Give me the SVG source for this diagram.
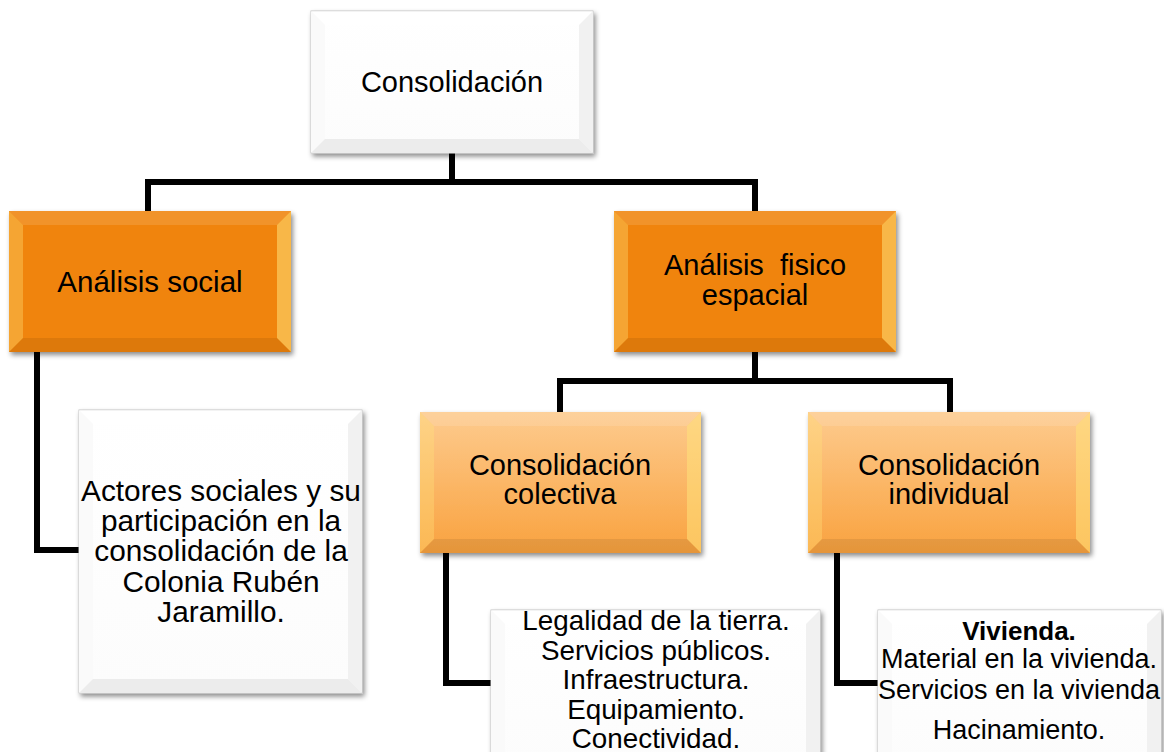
<svg xmlns="http://www.w3.org/2000/svg" width="1164" height="752" viewBox="0 0 1164 752">
<defs>
<filter id="sh" x="-10%" y="-10%" width="125%" height="125%">
<feDropShadow dx="2" dy="3" stdDeviation="2.5" flood-color="#000" flood-opacity="0.45"/>
</filter>
<linearGradient id="lo" x1="0" y1="0" x2="0" y2="1">
<stop offset="0" stop-color="#FDCB8E"/>
<stop offset="1" stop-color="#F9A23F"/>
</linearGradient>
<linearGradient id="wh" x1="0" y1="0" x2="0" y2="1">
<stop offset="0" stop-color="#FFFFFF"/>
<stop offset="1" stop-color="#FCFCFC"/>
</linearGradient>
</defs>
<style>
.t{font-family:"Liberation Sans",Arial,sans-serif;fill:#000;text-anchor:middle}
.orange{fill:#F0840C}
.lorange{fill:url(#lo)}
.white{fill:url(#wh);stroke:#C4C4C4;stroke-width:1}
.bt{fill:#FFFFFF;fill-opacity:0.12}
.bl{fill:#FFE27A;fill-opacity:0.35}
.br{fill:#FFE27A;fill-opacity:0.55}
.bb{fill:#000;fill-opacity:0.08}
.wbt{fill:#FFFFFF;fill-opacity:0.6}
.wbl{fill:#FAFAFA}
.wbr{fill:#F1F1F1}
.wbb{fill:#ECECEC}
.conn{fill:none;stroke:#000;stroke-width:6;stroke-linejoin:miter;stroke-linecap:butt}
</style>
<rect width="1164" height="752" fill="#FFFFFF"/>
<g id="connectors">
<path class="conn" d="M452,153 V182 M148,211 V182 H755 V211"/>
<path class="conn" d="M37,352 V550 H79"/>
<path class="conn" d="M755,352 V381 M560,412 V381 H950 V412"/>
<path class="conn" d="M446,553 V683 H491"/>
<path class="conn" d="M837,553 V683 H878"/>
</g>
<g id="n-consolidacion">
<rect class="white" x="311" y="11" width="282" height="142" filter="url(#sh)"/>
<polygon class="wbt" points="311,11 593,11 579,25 325,25"/>
<polygon class="wbl" points="311,11 325,25 325,139 311,153"/>
<polygon class="wbr" points="593,11 593,153 579,139 579,25"/>
<polygon class="wbb" points="311,153 325,139 579,139 593,153"/>
<text class="t" x="452" y="92" font-size="29">Consolidación</text>
</g>
<g id="n-analisis-social">
<rect class="orange" x="9" y="211" width="282" height="141" filter="url(#sh)"/>
<polygon class="bt" points="9,211 291,211 277,225 23,225"/>
<polygon class="bl" points="9,211 23,225 23,338 9,352"/>
<polygon class="br" points="291,211 291,352 277,338 277,225"/>
<polygon class="bb" points="9,352 23,338 277,338 291,352"/>
<text class="t" x="150" y="292" font-size="29.5">Análisis social</text>
</g>
<g id="n-analisis-fisico">
<rect class="orange" x="614" y="211" width="282" height="141" filter="url(#sh)"/>
<polygon class="bt" points="614,211 896,211 882,225 628,225"/>
<polygon class="bl" points="614,211 628,225 628,338 614,352"/>
<polygon class="br" points="896,211 896,352 882,338 882,225"/>
<polygon class="bb" points="614,352 628,338 882,338 896,352"/>
<text class="t" x="755" y="275" font-size="29" xml:space="preserve">Análisis  fisico</text>
<text class="t" x="755" y="305" font-size="29">espacial</text>
</g>
<g id="n-actores">
<rect class="white" x="79" y="410" width="283" height="283" filter="url(#sh)"/>
<polygon class="wbt" points="79,410 362,410 348,424 93,424"/>
<polygon class="wbl" points="79,410 93,424 93,679 79,693"/>
<polygon class="wbr" points="362,410 362,693 348,679 348,424"/>
<polygon class="wbb" points="79,693 93,679 348,679 362,693"/>
<text class="t" font-size="29.8"><tspan x="221" y="501">Actores sociales y su</tspan><tspan x="221" y="531">participación en la</tspan><tspan x="221" y="561">consolidación de la</tspan><tspan x="221" y="592">Colonia Rubén</tspan><tspan x="221" y="622">Jaramillo.</tspan></text>
</g>
<g id="n-colectiva">
<rect class="lorange" x="420" y="412" width="281" height="141" filter="url(#sh)"/>
<polygon class="bt" points="420,412 701,412 687,426 434,426"/>
<polygon class="bl" points="420,412 434,426 434,539 420,553"/>
<polygon class="br" points="701,412 701,553 687,539 687,426"/>
<polygon class="bb" points="420,553 434,539 687,539 701,553"/>
<text class="t" font-size="29"><tspan x="560" y="475">Consolidación</tspan><tspan x="560" y="504">colectiva</tspan></text>
</g>
<g id="n-individual">
<rect class="lorange" x="808" y="412" width="282" height="141" filter="url(#sh)"/>
<polygon class="bt" points="808,412 1090,412 1076,426 822,426"/>
<polygon class="bl" points="808,412 822,426 822,539 808,553"/>
<polygon class="br" points="1090,412 1090,553 1076,539 1076,426"/>
<polygon class="bb" points="808,553 822,539 1076,539 1090,553"/>
<text class="t" font-size="29"><tspan x="949" y="475">Consolidación</tspan><tspan x="949" y="504">individual</tspan></text>
</g>
<g id="n-legalidad">
<rect class="white" x="491" y="610" width="329" height="160" filter="url(#sh)"/>
<polygon class="wbt" points="491,610 820,610 806,624 505,624"/>
<polygon class="wbl" points="491,610 505,624 505,770 491,770"/>
<polygon class="wbr" points="820,610 820,770 806,770 806,624"/>
<text class="t" font-size="27.8"><tspan x="656" y="630">Legalidad de la tierra.</tspan><tspan x="656" y="660">Servicios públicos.</tspan><tspan x="656" y="689">Infraestructura.</tspan><tspan x="656" y="719">Equipamiento.</tspan><tspan x="656" y="748">Conectividad.</tspan></text>
</g>
<g id="n-vivienda">
<rect class="white" x="878" y="610" width="283" height="160" filter="url(#sh)"/>
<polygon class="wbt" points="878,610 1161,610 1147,624 892,624"/>
<polygon class="wbl" points="878,610 892,624 892,770 878,770"/>
<polygon class="wbr" points="1161,610 1161,770 1147,770 1147,624"/>
<text class="t" font-size="26" font-weight="bold" x="1019" y="640">Vivienda.</text>
<text class="t" font-size="27"><tspan x="1019" y="668">Material en la vivienda.</tspan><tspan x="1019" y="699">Servicios en la vivienda</tspan><tspan x="1019" y="739">Hacinamiento.</tspan></text>
</g>
</svg>
